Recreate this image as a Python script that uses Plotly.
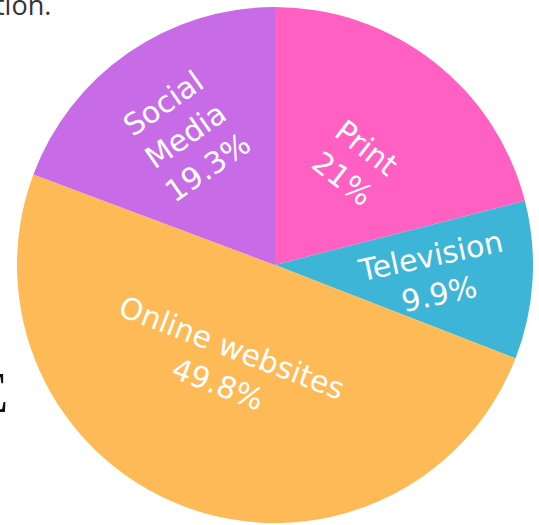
import math
import plotly.graph_objects as go

labels = ["Print", "Television", "Online websites", "Social Media"]
label_lines = ["Print", "Television", "Online websites", "Social<br>Media"]
values = [21, 9.9, 49.8, 19.3]
colors = ["#FF60C1", "#3DB5D6", "#FDBA57", "#C86BE6"]

# label styling (distance from centre as fraction of radius, angle nudge, orientation)
label_radius_frac = [0.50, 0.62, 0.435, 0.61]
label_angle_nudge = [0, 0, 5.5, 0]
label_tangential = [True, False, True, True]
label_fixed_angle = [0, -12, 0, 0]

W, H = 539, 525
cx, cy, r = 275, 265, 258
domain = dict(x=[(cx - r) / W, (cx + r) / W], y=[(H - cy - r) / H, (H - cy + r) / H])

fig = go.Figure(go.Pie(
    labels=labels,
    values=values,
    sort=False,
    direction="clockwise",
    rotation=0,
    marker=dict(colors=colors, line=dict(width=0)),
    textinfo="none",
    showlegend=False,
    hoverinfo="label+percent",
    domain=domain,
))

# slice labels placed at each slice's mid angle (computed from the values)
total = sum(values)
cum = 0.0
for lab, val, frac, nudge, tang, fixed in zip(label_lines, values, label_radius_frac,
                                              label_angle_nudge, label_tangential,
                                              label_fixed_angle):
    mid = (cum + val / 2) / total * 360.0
    cum += val
    a = math.radians(mid + nudge)
    px = cx + frac * r * math.sin(a)
    py = cy - frac * r * math.cos(a)
    if tang:
        ang = mid
        while ang > 90:
            ang -= 180
        while ang < -90:
            ang += 180
    else:
        ang = fixed
    txt = f"{lab}<br>{val:g}%"
    fig.add_annotation(text=txt, xref="paper", yref="paper", x=px / W, y=1 - py / H,
                       xanchor="center", yanchor="middle", showarrow=False,
                       textangle=ang, align="center",
                       font=dict(family="DejaVu Sans", size=30, color="white"))

fig.add_annotation(text="tion.", xref="paper", yref="paper", x=53 / W, y=1 - 5 / H,
                   xanchor="right", yanchor="middle", showarrow=False,
                   font=dict(family="Open Sans", size=27, color="#333333"))
fig.add_annotation(text="E", xref="paper", yref="paper", x=10 / W, y=1 - 393 / H,
                   xanchor="right", yanchor="middle", showarrow=False,
                   font=dict(family="Liberation Serif", size=56, color="#111111"))

fig.update_layout(width=W, height=H, margin=dict(l=0, r=0, t=0, b=0),
                  paper_bgcolor="white", plot_bgcolor="white")
fig.write_html("out.html", config={"displayModeBar": False},
               post_script="document.body.style.margin='0';")
